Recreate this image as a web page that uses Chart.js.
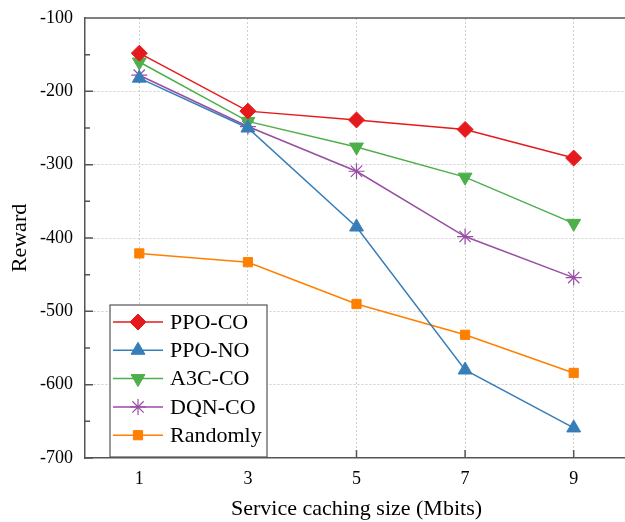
<!DOCTYPE html>
<html>
<head>
<meta charset="utf-8">
<script src="https://cdn.jsdelivr.net/npm/chart.js@4.4.0/dist/chart.umd.min.js"></script>
<style>
  html, body { margin: 0; padding: 0; background: #fff; overflow: hidden; }
  #wrap { width: 640px; height: 522px; }
</style>
</head>
<body>
<div id="wrap"><canvas id="grafico" width="640" height="522"></canvas></div>
<script>
const cacheSizes = [1, 3, 5, 7, 9];
const ppoCO = [-148, -227, -239, -252, -291];
const ppoNO = [-182, -250, -385, -580, -659];
const a3cCO = [-160, -241, -276, -317, -380];
const dqnCO = [-178, -248, -309, -398, -454];
const randomly = [-421, -433, -490, -532, -584];
const yTicks = [-700, -600, -500, -400, -300, -200, -100];

const serif = "'Liberation Serif', 'Times New Roman', serif";

function pts(vals) {
  return cacheSizes.map((x, i) => ({ x: x, y: vals[i] }));
}

function serie(label, vals, color, style, radius, rot) {
  return {
    label: label,
    data: pts(vals),
    borderColor: color,
    backgroundColor: color,
    borderWidth: 1.5,
    pointStyle: style,
    pointRadius: radius,
    pointRotation: rot || 0,
    pointBorderWidth: style === "star" ? 1.2 : 1,
    pointBorderColor: color,
    pointBackgroundColor: color,
    tension: 0
  };
}

// ticks pointing inward + top frame + legend box inside the plot
const moldura = {
  id: "moldura",
  afterDraw(chart) {
    const c = chart.ctx;
    const a = chart.chartArea;
    const xs = chart.scales.x, ys = chart.scales.y;
    c.save();
    c.strokeStyle = "#555";
    c.lineWidth = 1.5;
    c.beginPath();
    c.moveTo(a.left, a.top);
    c.lineTo(a.right, a.top);
    for (let v = -700; v <= -100; v += 50) {
      const y = ys.getPixelForValue(v);
      const len = v % 100 === 0 ? 8 : 5;
      c.moveTo(a.left, y);
      c.lineTo(a.left + len, y);
    }
    cacheSizes.forEach(v => {
      const x = xs.getPixelForValue(v);
      c.moveTo(x, a.bottom);
      c.lineTo(x, a.bottom - 8);
    });
    c.stroke();

    // legend
    const bx = 110, by = 305, bw = 157, bh = 152;
    c.fillStyle = "#fff";
    c.fillRect(bx, by, bw, bh);
    c.strokeStyle = "#555";
    c.lineWidth = 1.2;
    c.strokeRect(bx, by, bw, bh);
    c.font = "22px " + serif;
    c.textBaseline = "middle";
    chart.data.datasets.forEach((ds, i) => {
      const y = 322 + i * 28.3;
      c.strokeStyle = ds.borderColor;
      c.lineWidth = 1.5;
      c.beginPath();
      c.moveTo(113, y);
      c.lineTo(163, y);
      c.stroke();
      c.fillStyle = ds.backgroundColor;
      c.lineWidth = ds.pointBorderWidth;
      Chart.helpers.drawPoint(c, {
        pointStyle: ds.pointStyle,
        radius: ds.pointRadius,
        rotation: ds.pointRotation,
        borderWidth: ds.pointBorderWidth
      }, 138, y);
      c.fillStyle = "#000";
      c.fillText(ds.label, 170, y + 1);
    });
    c.restore();
  }
};

new Chart(document.getElementById("grafico"), {
  type: "line",
  data: {
    datasets: [
      serie("PPO-CO", ppoCO, "#e41a1c", "rectRot", 8),
      serie("PPO-NO", ppoNO, "#377eb8", "triangle", 8),
      serie("A3C-CO", a3cCO, "#4daf4a", "triangle", 8, 180),
      serie("DQN-CO", dqnCO, "#984ea3", "star", 8),
      serie("Randomly", randomly, "#ff7f00", "rect", 6.5)
    ]
  },
  options: {
    responsive: false,
    animation: false,
    layout: { padding: { top: 18, right: 12, left: 0, bottom: 0 } },
    plugins: {
      legend: { display: false },
      tooltip: { enabled: false }
    },
    scales: {
      x: {
        type: "linear",
        min: 0,
        max: 10,
        afterBuildTicks: s => { s.ticks = cacheSizes.map(v => ({ value: v })); },
        afterFit: s => { s.height = 64; s.paddingLeft = 0; s.paddingRight = 0; },
        grid: {
          drawTicks: false,
          color: "#cfcfcf",
          lineWidth: 1
        },
        border: { display: true, color: "#555", width: 1.5, dash: [2, 2] },
        ticks: {
          padding: 10,
          color: "#000",
          font: { family: serif, size: 18 }
        },
        title: {
          display: true,
          text: "Service caching size (Mbits)",
          color: "#000",
          font: { family: serif, size: 22 },
          padding: { top: 0, bottom: 0 }
        }
      },
      y: {
        min: -700,
        max: -100,
        afterBuildTicks: s => { s.ticks = yTicks.map(v => ({ value: v })); },
        afterFit: s => { s.width = 85; s.paddingTop = 0; s.paddingBottom = 0; },
        grid: {
          drawTicks: false,
          color: ctx => (ctx.tick && (ctx.tick.value === -100 || ctx.tick.value === -700)) ? "rgba(0,0,0,0)" : "#cfcfcf",
          lineWidth: 1
        },
        border: { display: true, color: "#555", width: 1.5, dash: [2, 2] },
        ticks: {
          padding: 12,
          color: "#000",
          font: { family: serif, size: 18 }
        },
        title: {
          display: true,
          text: "Reward",
          color: "#000",
          font: { family: serif, size: 22 },
          padding: { top: 7, bottom: 0 }
        }
      }
    }
  },
  plugins: [moldura]
});
</script>
</body>
</html>
